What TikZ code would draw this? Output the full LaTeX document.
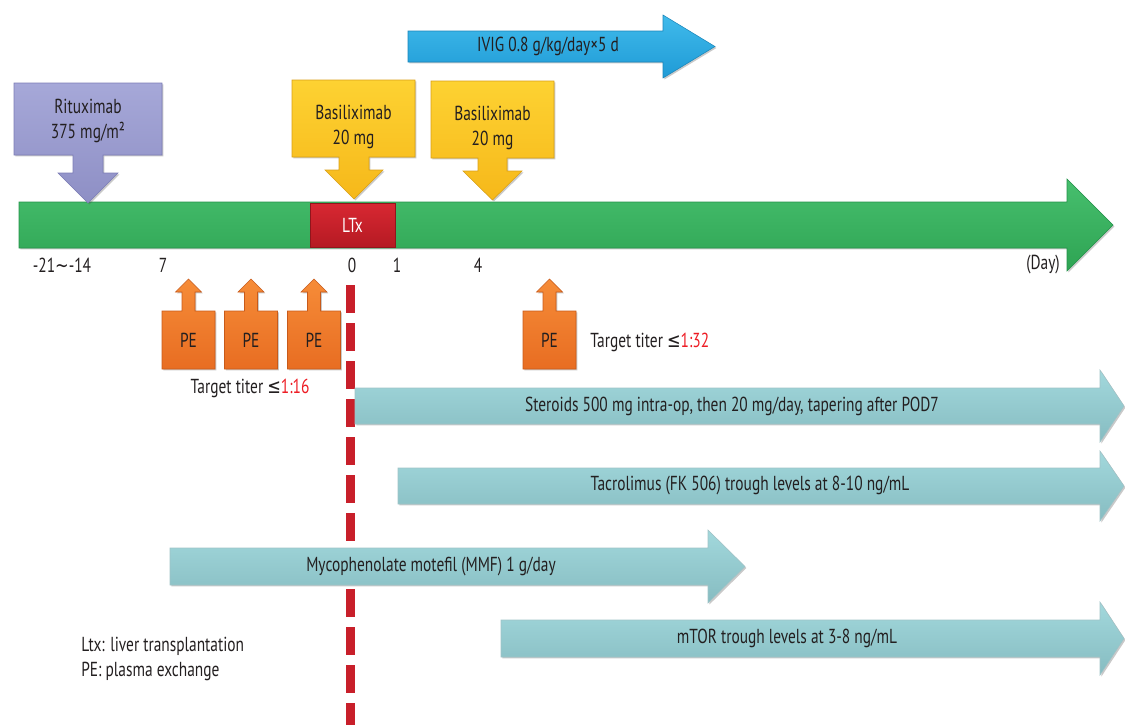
\documentclass[tikz,border=0pt]{standalone}
\usepackage{fontspec}
\setmainfont{PT Sans}[FakeStretch=0.76]
\newfontfamily\symfont{DejaVu Sans}[FakeStretch=0.8]
\usetikzlibrary{shadows}
\definecolor{txtc}{HTML}{231F20}
\definecolor{redt}{HTML}{ED1C24}
\definecolor{gA}{HTML}{47BF6E}
\definecolor{gB}{HTML}{2EA453}
\definecolor{gE}{HTML}{24924A}
\definecolor{rA}{HTML}{D82832}
\definecolor{rB}{HTML}{B51A23}
\definecolor{pA}{HTML}{A6A8D8}
\definecolor{pB}{HTML}{8E8FC5}
\definecolor{pE}{HTML}{7C7DB6}
\definecolor{yA}{HTML}{FDD232}
\definecolor{yB}{HTML}{F6B81A}
\definecolor{yE}{HTML}{D9A016}
\definecolor{bA}{HTML}{40BAEB}
\definecolor{bB}{HTML}{1F9BD6}
\definecolor{bE}{HTML}{1A86BA}
\definecolor{oA}{HTML}{F68C38}
\definecolor{oB}{HTML}{E86D22}
\definecolor{oE}{HTML}{C85A1A}
\definecolor{tA}{HTML}{A2D8DC}
\definecolor{tB}{HTML}{86BCC1}
\definecolor{tE}{HTML}{78AAAF}
\definecolor{dashc}{HTML}{C81F2A}
\tikzset{
  shad/.style={drop shadow={shadow xshift=1.1pt,shadow yshift=-1.1pt,opacity=0.3,fill=black!70}},
  gbar/.style={top color=gA,bottom color=gB,draw=gE,line width=0.4pt,shad},
  ltxbox/.style={top color=rA,bottom color=rB,draw=rB!80!black,line width=0.4pt,shad},
  ritu/.style={top color=pA,bottom color=pB,draw=pE,line width=0.4pt,shad},
  basi/.style={top color=yA,bottom color=yB,draw=yE,line width=0.4pt,shad},
  ivig/.style={top color=bA,bottom color=bB,draw=bE,line width=0.4pt,shad},
  pex/.style={top color=oA,bottom color=oB,draw=oE,line width=0.4pt,shad},
  teal/.style={top color=tA,bottom color=tB,draw=tE!70,line width=0.4pt,shad},
  txt/.style={text=txtc,inner sep=0pt,align=center},
  wtxt/.style={text=white,inner sep=0pt,align=center},
}
\newcommand\mype[2]{%
  \path[pex] ({#1-26.5},311) -- ({#1-6.5},311) -- ({#1-6.5},292) -- ({#1-13},292) -- (#1,279) -- ({#1+13},292) -- ({#1+6.5},292) -- ({#1+6.5},311) -- ({#1+26.5},311) -- ({#1+26.5},369) -- ({#1-26.5},369) -- cycle;
  \node[txt] (#2) at (#1,340) {PE};}
\begin{document}
\begin{tikzpicture}[x=0.75pt,y=-0.75pt,font=\fontsize{15.2}{18.2}\selectfont]
\useasboundingbox (0,0) rectangle (1125,725);
% IVIG
\path[ivig] (408,31) -- (663,31) -- (663,15) -- (715,46.5) -- (663,78) -- (663,62) -- (408,62) -- cycle;
\node[txt] (ivigt) at (548,46.5) {IVIG 0.8 g/kg/day×5 d};
% main green axis
\path[gbar] (19,202) -- (1067,202) -- (1067,179) -- (1113,225) -- (1067,271) -- (1067,248) -- (19,248) -- cycle;
% LTx
\path[ltxbox] (310,203) rectangle (395,247);
\node[wtxt] (ltx) at (352.5,225) {LTx};
% Rituximab
\path[ritu] (14,83) -- (162,83) -- (162,155) -- (103,155) -- (103,173) -- (118,173) -- (88,203) -- (58,173) -- (73,173) -- (73,155) -- (14,155) -- cycle;
\node[txt] (ritt) at (88,121) {Rituximab\\375 mg/m²};
% Basiliximab 1
\path[basi] (292,80) -- (415,80) -- (415,157) -- (369,157) -- (369,170) -- (383,170) -- (354,199) -- (325,170) -- (339,170) -- (339,157) -- (292,157) -- cycle;
\node[txt] (bas1) at (353.5,127) {Basiliximab\\20 mg};
% Basiliximab 2
\path[basi] (431,81) -- (554,81) -- (554,158) -- (507,158) -- (507,171) -- (522,171) -- (492.5,200) -- (463,171) -- (478,171) -- (478,158) -- (431,158) -- cycle;
\node[txt] (bas2) at (492.5,128) {Basiliximab\\20 mg};
% axis labels
\node[txt] (dm21) at (62,265) {-21{\symfont ∼}-14};
\node[txt] (d7) at (163,265) {7};
\node[txt] (d0) at (352,265) {0};
\node[txt] (d1) at (397,265) {1};
\node[txt] (d4) at (478,265) {4};
\node[txt] (dday) at (1043,265) {(Day)};
% dashed line
\draw[dashc,line width=6.75pt,dash pattern=on 21pt off 7.5pt] (350.5,285) -- (350.5,725);
% PE boxes
\mype{188.5}{pe1}
\mype{251}{pe2}
\mype{314}{pe3}
\mype{549.5}{pe4}
\node[txt] (tt16) at (250,388) {Target titer {\symfont ≤}\textcolor{redt}{1:16}};
\node[txt,anchor=west] (tt32) at (590,342) {Target titer {\symfont ≤}\textcolor{redt}{1:32}};
% teal arrows
\path[teal] (355,388) -- (1100,388) -- (1100,370) -- (1124,406) -- (1100,442) -- (1100,424) -- (355,424) -- cycle;
\node[txt] (ster) at (732,406) {Steroids 500 mg intra-op, then 20 mg/day, tapering after POD7};
\path[teal] (398,468) -- (1100,468) -- (1100,451) -- (1124,486) -- (1100,521) -- (1100,504) -- (398,504) -- cycle;
\node[txt] (tacro) at (750,486) {Tacrolimus (FK 506) trough levels at 8-10 ng/mL};
\path[teal] (170,548) -- (708,548) -- (708,530) -- (745,566.5) -- (708,603) -- (708,585) -- (170,585) -- cycle;
\node[txt] (mmf) at (431,566.5) {Mycophenolate motefil (MMF) 1 g/day};
\path[teal] (501,620) -- (1100,620) -- (1100,602) -- (1124,638.5) -- (1100,675) -- (1100,657) -- (501,657) -- cycle;
\node[txt] (mtor) at (787,638.5) {mTOR trough levels at 3-8 ng/mL};
% legend
\node[txt,anchor=west,align=left] (leg) at (81,659) {Ltx: liver transplantation\\PE: plasma exchange};
\end{tikzpicture}
\end{document}
